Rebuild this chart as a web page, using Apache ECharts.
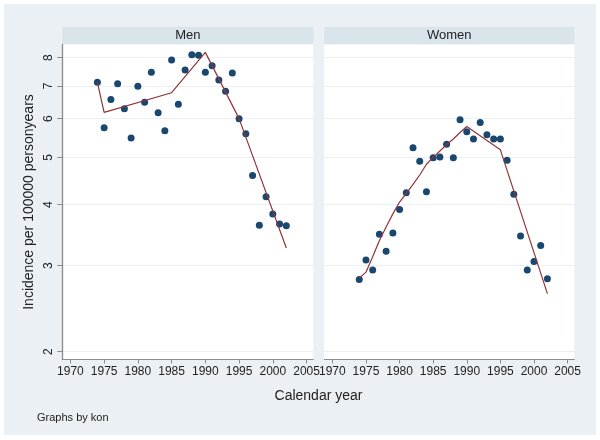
<!DOCTYPE html>
<html><head><meta charset="utf-8">
<script src="https://cdn.jsdelivr.net/npm/echarts@6/dist/echarts.min.js"></script>
<style>html,body{margin:0;padding:0;background:#fff}#c{width:600px;height:440px}</style>
</head><body><div id="c"></div>
<script>
// ---- data ----
const panels = ['Men', 'Women'];
const years = [1974,1975,1976,1977,1978,1979,1980,1981,1982,1983,1984,1985,1986,1987,1988,1989,1990,1991,1992,1993,1994,1995,1996,1997,1998,1999,2000,2001,2002];
const menRate = [7.12,5.75,6.57,7.07,6.29,5.48,6.99,6.48,7.47,6.17,5.67,7.91,6.42,7.55,8.11,8.09,7.47,7.70,7.20,6.83,7.44,6.00,5.59,4.59,3.63,4.15,3.83,3.65,3.62];
const womenRate = [2.81,3.08,2.94,3.48,3.21,3.50,3.91,4.23,5.23,4.91,4.25,4.99,5.01,5.32,4.99,5.97,5.64,5.45,5.89,5.56,5.45,5.45,4.93,4.20,3.45,2.94,3.06,3.30,2.82];
const menFitYears = [1974,1975,1985,1990,1995,2002];
const menFit = [7.12,6.18,6.78,8.20,6.00,3.26];
const womenFitYears = [1974,1975,1976,1977,1978,1979,1980,1981,1982,1983,1984,1985,1986,1987,1988,1989,1990,1995,2002];
const womenFit = [2.83,2.91,3.13,3.38,3.60,3.83,4.05,4.22,4.40,4.60,4.84,5.00,5.15,5.31,5.45,5.62,5.78,5.18,2.63];
const xTicks = [1970,1975,1980,1985,1990,1995,2000,2005];
const yTicks = [2,3,4,5,6,7,8];
const xTitle = 'Calendar year';
const yTitle = 'Incidence per 100000 personyears';
const note = 'Graphs by kon';

// ---- styling ----
const BG = '#eaf0f3', STRIP = '#d9e5eb', GRID = '#e9eff2', AXIS = '#8a8a8a';
const DOT = '#1a476f', LINE = '#90353b';
const FONT = '"Liberation Sans", Arial, sans-serif';
const zip = (a, b) => a.map((v, i) => [v, b[i]]);

const gridPos = [
  {left: 62.3, top: 44.5, width: 251, height: 315},
  {left: 324.3, top: 44.5, width: 250, height: 315}
];

const chart = echarts.init(document.getElementById('c'), null, {renderer: 'canvas'});
const option = {
  animation: false,
  backgroundColor: '#fff',
  textStyle: {fontFamily: FONT},
  grid: gridPos.map(g => Object.assign({show: true, backgroundColor: '#fff', borderWidth: 0, outerBoundsMode: 'none'}, g)),
  xAxis: [0, 1].map(i => ({
    type: 'value', gridIndex: i, min: 1968.8, max: 2006,
    axisLine: {show: true, onZero: false, lineStyle: {color: AXIS, width: 1}},
    axisTick: {show: true, length: 4, customValues: xTicks, lineStyle: {color: AXIS}},
    axisLabel: {customValues: xTicks, fontSize: 12, color: '#222', margin: 6, fontFamily: FONT, formatter: v => String(v)},
    splitLine: {show: false}
  })),
  yAxis: [0, 1].map(i => ({
    type: 'log', logBase: 10, gridIndex: i, min: 1.928, max: 8.51,
    name: i === 0 ? yTitle : '', nameLocation: 'middle', nameRotate: 90, nameGap: 26,
    nameTextStyle: {fontSize: 14, color: '#222', fontFamily: FONT},
    axisLine: {show: i === 0, onZero: false, lineStyle: {color: AXIS, width: 1.3}},
    axisTick: {show: i === 0, length: 5, customValues: yTicks, lineStyle: {color: AXIS}},
    axisLabel: {show: i === 0, customValues: yTicks, rotate: 90, fontSize: 12, color: '#222', margin: 8, fontFamily: FONT, formatter: v => String(v)},
    splitLine: {show: true, lineStyle: {color: GRID, width: 1.2}}
  })),
  series: [
    {type: 'scatter', xAxisIndex: 0, yAxisIndex: 0, data: zip(years, menRate), symbolSize: 7, itemStyle: {color: DOT, opacity: 1}, z: 2},
    {type: 'line', xAxisIndex: 0, yAxisIndex: 0, data: zip(menFitYears, menFit), showSymbol: false, lineStyle: {color: LINE, width: 1.2}, z: 3},
    {type: 'scatter', xAxisIndex: 1, yAxisIndex: 1, data: zip(years, womenRate), symbolSize: 7, itemStyle: {color: DOT, opacity: 1}, z: 2},
    {type: 'line', xAxisIndex: 1, yAxisIndex: 1, data: zip(womenFitYears, womenFit), showSymbol: false, lineStyle: {color: LINE, width: 1.2}, z: 3}
  ],
  graphic: [
    {type: 'rect', z: -100, shape: {x: 4, y: 4, width: 592, height: 431}, style: {fill: BG}},
    {type: 'rect', z: -50, shape: {x: 62.3, y: 26.7, width: 251, height: 17.8}, style: {fill: STRIP}},
    {type: 'rect', z: -50, shape: {x: 324.3, y: 26.7, width: 250, height: 17.8}, style: {fill: STRIP}},
    {type: 'text', z: 10, x: 62.3 + 251 / 2, y: 35.8, style: {text: panels[0], fontSize: 13, fill: '#222', align: 'center', verticalAlign: 'middle', fontFamily: FONT}},
    {type: 'text', z: 10, x: 324.3 + 250 / 2, y: 35.8, style: {text: panels[1], fontSize: 13, fill: '#222', align: 'center', verticalAlign: 'middle', fontFamily: FONT}},
    {type: 'text', z: 10, x: 318.5, y: 396, style: {text: xTitle, fontSize: 14, fill: '#222', align: 'center', verticalAlign: 'middle', fontFamily: FONT}},
    {type: 'text', z: 10, x: 37, y: 418, style: {text: note, fontSize: 11, fill: '#222', align: 'left', verticalAlign: 'middle', fontFamily: FONT}}
  ]
};
chart.setOption(option);
</script></body></html>
